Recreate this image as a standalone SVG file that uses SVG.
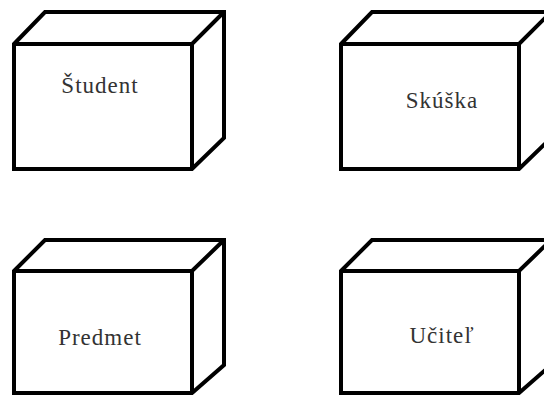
<svg xmlns="http://www.w3.org/2000/svg" width="544" height="396" viewBox="0 0 544 396">
<defs>
<style>
.box{fill:#ffffff;stroke:#000000;stroke-width:4;stroke-linejoin:miter}
.lbl{font-size:23px;letter-spacing:1px;fill:#333333;text-anchor:middle}
</style>
</defs>
<rect width="544" height="396" fill="#ffffff"/>
<g id="student">
<path class="box" d="M14,44 L45,12 L224,12 L224,138 L192,169 L14,169 Z M14,44 L192,44 L224,12 M192,44 L192,169"/>
<text class="lbl" font-family="Liberation Serif, serif" x="100" y="93">Študent</text>
</g>
<g id="skuska">
<path class="box" d="M341,44 L372,12 L551,12 L551,138 L519,169 L341,169 Z M341,44 L519,44 L551,12 M519,44 L519,169"/>
<text class="lbl" font-family="Liberation Serif, serif" x="442" y="108">Skúška</text>
</g>
<g id="predmet">
<path class="box" d="M14,271 L45,240 L224,240 L224,365 L192,393 L14,393 Z M14,271 L192,271 L224,240 M192,271 L192,393"/>
<text class="lbl" font-family="Liberation Serif, serif" x="100" y="345">Predmet</text>
</g>
<g id="ucitel">
<path class="box" d="M341,271 L372,240 L551,240 L551,365 L519,393 L341,393 Z M341,271 L519,271 L551,240 M519,271 L519,393"/>
<text class="lbl" font-family="Liberation Serif, serif" x="442" y="343">Učiteľ</text>
</g>
<g id="connectors"/>
</svg>
